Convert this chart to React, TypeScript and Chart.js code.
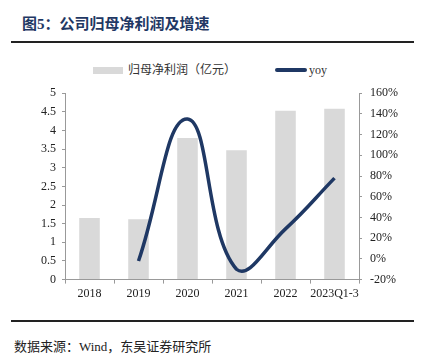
import React, { useEffect, useRef } from "react";
import { Chart, registerables } from "chart.js";

Chart.register(...registerables);

const categories = ["2018", "2019", "2020", "2021", "2022", "2023Q1-3"];
const profit = [1.65, 1.62, 3.8, 3.47, 4.53, 4.58];
const yoy = [null, -2, 135, -10, 29, 78];
const leftTicks = [0, 5, 0.5];
const rightTicks = [-20, 160, 20];
const seriesNames = ["归母净利润（亿元）", "yoy"];

const NAVY = "#1f3864";
const GREY = "#d9d9d9";
const FONT = "'Liberation Serif', 'Noto Sans CJK SC', serif";

export default function App() {
  const ref = useRef<HTMLCanvasElement | null>(null);
  useEffect(() => {
    document.body.style.margin = "0";
    const ctx = ref.current!;
    const chart = new Chart(ctx, {
      type: "bar",
      data: {
        labels: categories,
        datasets: [
          {
            type: "bar",
            label: seriesNames[0],
            data: profit,
            backgroundColor: GREY,
            borderWidth: 0,
            barPercentage: 0.42,
            categoryPercentage: 1,
            yAxisID: "y",
            order: 1,
          },
          {
            type: "line",
            label: seriesNames[1],
            data: yoy as any,
            borderColor: NAVY,
            backgroundColor: NAVY,
            borderWidth: 3.5,
            pointRadius: 0,
            tension: 0.45,
            yAxisID: "y1",
            order: 0,
          },
        ],
      },
      options: {
        animation: false,
        responsive: false,
        maintainAspectRatio: false,
        layout: { padding: { left: 35, right: 16, top: 4, bottom: 0 } },
        plugins: {
          tooltip: { enabled: false },
          legend: { display: false },
        },
        scales: {
          x: {
            grid: {
              display: true,
              drawOnChartArea: false,
              drawTicks: true,
              tickLength: 4,
              offset: true,
              color: "#999",
            },
            border: { color: "#999" },
            ticks: {
              color: "#222",
              font: { family: FONT, size: 12 },
              maxRotation: 0,
              autoSkip: false,
              padding: 3,
            },
          },
          y: {
            position: "left",
            min: leftTicks[0],
            max: leftTicks[1],
            grid: { drawOnChartArea: false, drawTicks: true, tickLength: 3, color: "#999" },
            border: { color: "#999" },
            ticks: {
              stepSize: leftTicks[2],
              autoSkip: false,
              color: "#222",
              font: { family: FONT, size: 12 },
              padding: 6,
              callback: (v: any) => `${Number(v)}`,
            },
          },
          y1: {
            position: "right",
            min: rightTicks[0],
            max: rightTicks[1],
            grid: { drawOnChartArea: false, drawTicks: true, tickLength: 3, color: "#999" },
            border: { color: "#999" },
            ticks: {
              stepSize: rightTicks[2],
              autoSkip: false,
              color: "#222",
              font: { family: FONT, size: 12 },
              padding: 8,
              callback: (v: any) => `${v}%`,
            },
          },
        },
      },
    });
    return () => chart.destroy();
  }, []);

  const legendText: React.CSSProperties = {
    position: "absolute",
    top: 62,
    fontFamily: FONT,
    fontSize: 12,
    color: "#333",
    whiteSpace: "nowrap",
    lineHeight: "16px",
  };

  return (
    <div style={{ position: "relative", width: 422, height: 355, background: "#fff", overflow: "hidden" }}>
      <div
        style={{
          position: "absolute",
          left: 22,
          top: 12,
          fontFamily: FONT,
          fontWeight: "bold",
          fontSize: 15,
          color: NAVY,
          whiteSpace: "nowrap",
        }}
      >
        图5：公司归母净利润及增速
      </div>
      <div style={{ position: "absolute", left: 11, top: 41, width: 403, height: 2, background: "#222" }} />
      <div style={{ position: "absolute", left: 93, top: 67, width: 30, height: 7, background: GREY }} />
      <div style={{ ...legendText, left: 128 }}>{seriesNames[0]}</div>
      <div style={{ position: "absolute", left: 275, top: 68, width: 32, height: 4, borderRadius: 2, background: NAVY }} />
      <div style={{ ...legendText, left: 309 }}>{seriesNames[1]}</div>
      <canvas ref={ref} width={422} height={226} style={{ position: "absolute", left: 0, top: 78 }} />
      <div style={{ position: "absolute", left: 11, top: 320, width: 403, height: 2, background: "#222" }} />
      <div
        style={{
          position: "absolute",
          left: 14,
          top: 336,
          fontFamily: FONT,
          fontSize: 13,
          color: "#222",
          whiteSpace: "nowrap",
        }}
      >
        数据来源：Wind，东吴证券研究所
      </div>
    </div>
  );
}
